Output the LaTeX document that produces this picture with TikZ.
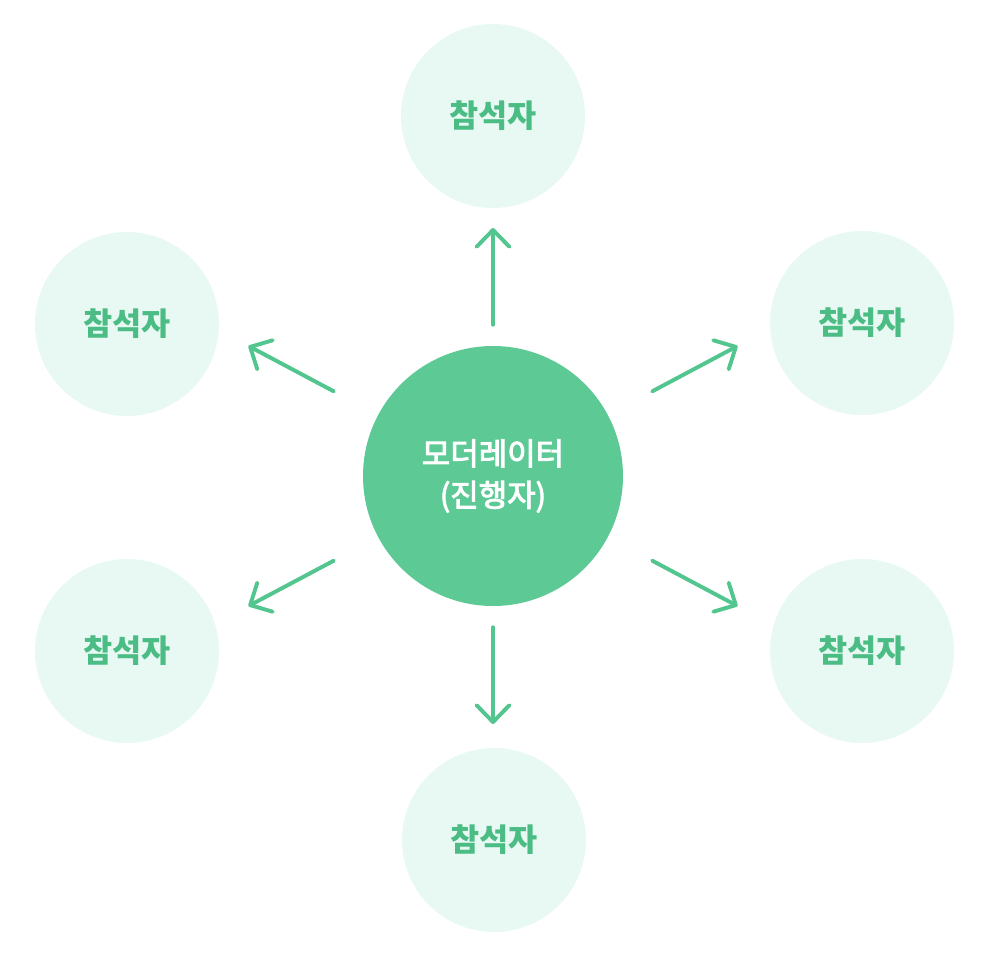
\documentclass[tikz,border=0pt]{standalone}
\usepackage{fontspec}
\newfontfamily\kr{Noto Sans CJK KR}
\newfontfamily\krmed{Noto Sans CJK KR}[FakeBold=3]
\usetikzlibrary{arrows.meta,calc}

\definecolor{modgreen}{RGB}{93,201,149}
\definecolor{partfill}{RGB}{232,249,244}
\definecolor{parttext}{RGB}{74,188,132}
\definecolor{arrgreen}{RGB}{82,198,142}

\tikzset{
  modcircle/.style={circle,fill=modgreen,minimum size=6.5cm,inner sep=0pt,
    text=white,align=center,font=\krmed\fontsize{22}{29.5}\selectfont},
  partcircle/.style={circle,fill=partfill,minimum size=4.6cm,inner sep=0pt,
    text=parttext,font=\kr\bfseries\fontsize{22.5}{26}\selectfont},
  arr/.style={arrgreen,line width=2.8pt,line cap=round,
    -{Straight Barb[round,length=4.2mm,width=8.2mm]}}
}

\begin{document}
\begin{tikzpicture}

  \useasboundingbox (-12.325,-11.9) rectangle (12.875,11.9);

  % circles
  \node[modcircle] (mod) at (0,0) {모더레이터\\(진행자)};
  \node[partcircle] (top) at (0,9.0) {참석자};
  \node[partcircle] (upleft) at (-9.15,3.8) {참석자};
  \node[partcircle] (upright) at (9.225,3.825) {참석자};
  \node[partcircle] (lowleft) at (-9.15,-4.375) {참석자};
  \node[partcircle] (lowright) at (9.225,-4.375) {참석자};
  \node[partcircle] (bottom) at (0.025,-9.1) {참석자};

  % arrows
  \foreach \a/\s/\r [count=\i] in {90/0.525/6.2, 270/0.525/6.2, 28/1.25/6.925,
      152/1.25/6.925, 208/1.25/6.925, 332/1.25/6.925} {
    \coordinate (tip\i) at ($(mod)+(\a:\r)$);
    \draw[arr,shorten <=\s cm] (mod.\a) -- (tip\i);
  }

\end{tikzpicture}
\end{document}
